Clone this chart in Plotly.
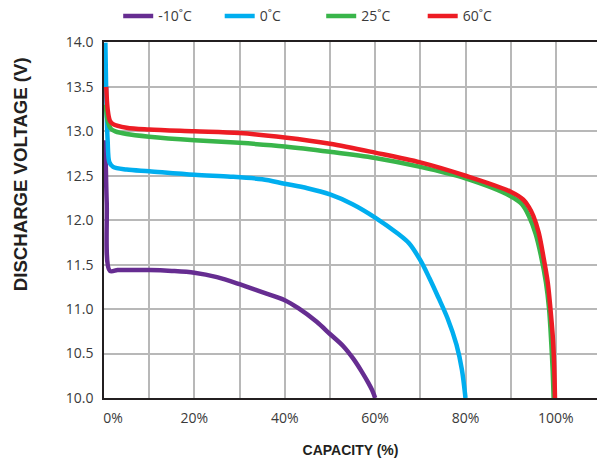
import plotly.graph_objects as go

# Capacity (%) and discharge voltage (V) for each temperature
cap_m10 = [0.3, 0.6, 1.3, 3, 5, 10, 15, 20, 25, 30, 35, 40, 43, 47, 50, 53, 55.2, 57, 58.5, 59.5, 60]
v_m10 = [12.9, 12.2, 11.43, 11.44, 11.44, 11.44, 11.43, 11.41, 11.36, 11.28, 11.19, 11.1, 11.01, 10.86, 10.72, 10.58, 10.44, 10.3, 10.17, 10.07, 10.0]

cap_0 = [0.3, 0.5, 0.8, 1.2, 2, 5, 10, 20, 28, 35, 40, 45, 50, 55, 60, 65, 67.5, 70, 72, 74, 76, 78, 79.2, 80]
v_0 = [14.0, 13.4, 12.9, 12.65, 12.6, 12.57, 12.55, 12.51, 12.49, 12.46, 12.41, 12.36, 12.29, 12.18, 12.03, 11.85, 11.74, 11.55, 11.35, 11.13, 10.9, 10.6, 10.32, 10.0]

cap_25 = [0.4, 0.8, 1.5, 2.5, 5, 10, 20, 30, 40, 50, 60, 70, 80, 90, 92.5, 94, 95.5, 96.7, 97.8, 98.5, 99, 99.3, 99.5]
v_25 = [13.3, 13.12, 13.03, 13.0, 12.97, 12.94, 12.9, 12.87, 12.83, 12.77, 12.7, 12.6, 12.47, 12.27, 12.18, 12.05, 11.85, 11.6, 11.3, 11.0, 10.6, 10.3, 10.0]

cap_60 = [0.5, 0.8, 1.3, 2, 5, 10, 20, 30, 40, 50, 60, 70, 80, 90, 92.8, 94, 95, 96.2, 97.2, 98.2, 98.8, 99.3, 99.6, 99.8]
v_60 = [13.5, 13.25, 13.12, 13.08, 13.04, 13.02, 13.0, 12.98, 12.93, 12.86, 12.76, 12.65, 12.5, 12.32, 12.23, 12.15, 12.05, 11.86, 11.6, 11.3, 11.0, 10.7, 10.4, 10.0]

series_names = ["-10˚C", "0˚C", "25˚C", "60˚C"]
colors = ["#662d91", "#00aeef", "#39b54a", "#ed1c24"]

x_tickvals = [0, 10, 20, 30, 40, 50, 60, 70, 80, 90, 100]
x_ticktext = ["\u00a0\u00a0\u00a0\u00a0\u00a00%", "", "20%", "", "40%", "", "60%", "", "80%", "", "100%"]

fig = go.Figure()
for xs, ys, name, c in zip([cap_m10, cap_0, cap_25, cap_60],
                           [v_m10, v_0, v_25, v_60], series_names, colors):
    fig.add_trace(go.Scatter(x=xs, y=ys, mode="lines", name=name,
                             line=dict(color=c, width=4.5, shape="spline", smoothing=0.9)))

tick_font = dict(family="Open Sans, sans-serif", size=14, color="#3a3a3a")

fig.update_layout(
    width=597, height=466,
    margin=dict(l=104, r=0, t=37, b=68),
    paper_bgcolor="white", plot_bgcolor="white",
    showlegend=True,
    legend=dict(orientation="h", xref="container", yref="container",
                x=0.198, y=0.965, xanchor="left", yanchor="middle",
                font=dict(family="Open Sans, sans-serif", size=14, color="#3a3a3a"),
                entrywidth=56.5, itemwidth=30, bgcolor="rgba(0,0,0,0)"),
    xaxis=dict(range=[0, 109.1], tickvals=x_tickvals, ticktext=x_ticktext,
               showgrid=True, gridcolor="#b8b8b8", gridwidth=1.5,
               showline=True, linecolor="#231f20", linewidth=1.5, mirror=True,
               ticks="", ticklabelstandoff=6, tickfont=tick_font, zeroline=False,
               title=dict(text="CAPACITY (%)", standoff=20,
                          font=dict(family="Liberation Sans Narrow, Liberation Sans, sans-serif",
                                    size=14, color="#231f20", weight="bold"))),
    yaxis=dict(range=[10, 14], dtick=0.5, tickformat=".1f",
               showgrid=True, gridcolor="#b8b8b8", gridwidth=1.5,
               showline=True, linecolor="#231f20", linewidth=1.5,
               ticks="", ticklabelstandoff=6, tickfont=tick_font, zeroline=False),
    annotations=[dict(text="<b>DISCHARGE VOLTAGE (V)</b>", textangle=-90,
                      xref="paper", yref="paper", x=-0.168, y=0.63,
                      xanchor="center", yanchor="middle", showarrow=False,
                      font=dict(family="Liberation Sans, Arial, sans-serif", size=18.6, color="#231f20"))],
)

fig.write_html("out.html", config={"displayModeBar": False},
               post_script="document.body.style.margin='0';")
